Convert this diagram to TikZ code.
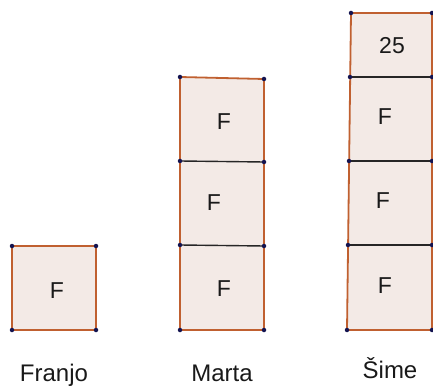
\documentclass[tikz,border=0pt]{standalone}
\usepackage{fontspec}
\setmainfont{Liberation Sans}
\definecolor{fillc}{RGB}{243,234,230}
\definecolor{edgec}{RGB}{192,96,48}
\definecolor{ptc}{RGB}{20,20,80}
\begin{document}
\begin{tikzpicture}[x=1pt,y=-1pt,
  sq/.style={fill=fillc,draw=edgec,line width=1.8pt},
  divl/.style={draw=black!85,line width=1.4pt},
  pt/.style={circle,fill=ptc,inner sep=0pt,minimum size=4.5pt},
  lab/.style={font=\fontsize{23}{26}\selectfont,text=black!90},
  nametxt/.style={font=\fontsize{24}{28}\selectfont,text=black!90,anchor=base}]
\useasboundingbox (0,0) rectangle (433,387);
% Franjo
\coordinate (f1) at (12,246); \coordinate (f2) at (96,246);
\coordinate (f3) at (96,330); \coordinate (f4) at (12,330);
\draw[sq] (f1) -- (f2) -- (f3) -- (f4) -- cycle;
\foreach \p in {f1,f2,f3,f4} \node[pt] at (\p) {};
\node[lab] (fF) at (57,291) {F};
\node[nametxt] (fn) at (54,381) {Franjo};
% Marta
\coordinate (m1) at (180,77); \coordinate (m2) at (264,79);
\coordinate (m3) at (180,161); \coordinate (m4) at (264,162);
\coordinate (m5) at (180,245); \coordinate (m6) at (264,246);
\coordinate (m7) at (180,330); \coordinate (m8) at (264,330);
\draw[sq] (m1) -- (m2) -- (m8) -- (m7) -- cycle;
\draw[divl] (m3) -- (m4);
\draw[divl] (m5) -- (m6);
\foreach \p in {m1,m2,m3,m4,m5,m6,m7,m8} \node[pt] at (\p) {};
\node[lab] (mF1) at (224,122) {F};
\node[lab] (mF2) at (214,203) {F};
\node[lab] (mF3) at (224,289) {F};
\node[nametxt] (mn) at (222,381) {Marta};
% Sime
\coordinate (s1) at (351,13); \coordinate (s2) at (432,13);
\coordinate (s3) at (350,77); \coordinate (s4) at (432,77);
\coordinate (s5) at (349,161); \coordinate (s6) at (432,161);
\coordinate (s7) at (348,245); \coordinate (s8) at (432,245);
\coordinate (s9) at (347,330); \coordinate (s10) at (432,330);
\draw[sq] (s1) -- (s2) -- (s10) -- (s9) -- cycle;
\draw[divl] (s3) -- (s4);
\draw[divl] (s5) -- (s6);
\draw[divl] (s7) -- (s8);
\foreach \p in {s1,s2,s3,s4,s5,s6,s7,s8,s9,s10} \node[pt] at (\p) {};
\node[lab] (s25) at (392,46) {25};
\node[lab] (sF1) at (385,117) {F};
\node[lab] (sF2) at (383,201) {F};
\node[lab] (sF3) at (385,286) {F};
\node[nametxt] (sn) at (390,378) {Šime};
\end{tikzpicture}
\end{document}
